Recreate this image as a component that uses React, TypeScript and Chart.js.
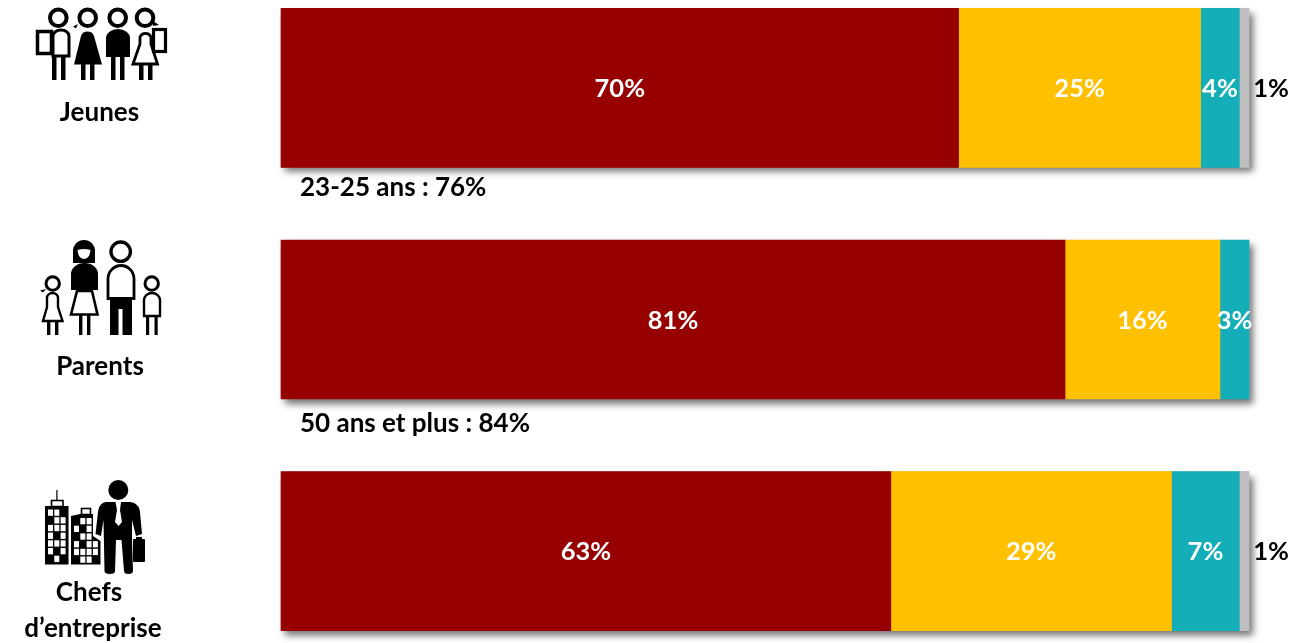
import React, { useEffect, useRef } from "react";
import { Chart, registerables } from "chart.js";

Chart.register(...registerables);

const categories = ["Jeunes", "Parents", "Chefs d’entreprise"];
const favorable = [70, 81, 63];
const neutral = [25, 16, 29];
const opposed = [4, 3, 7];
const unknown = [1, 0, 1];
const notes = ["23-25 ans : 76%", "50 ans et plus : 84%"];
const seriesColors = ["#960000", "#FFC000", "#13AEB8", "#BFBFBF"];
const FONT = "Lato, Carlito, sans-serif";

const shadowPlugin = {
  id: "barShadow",
  beforeDatasetsDraw(chart: any) {
    const { ctx, scales } = chart;
    const bars = chart.getDatasetMeta(0).data;
    ctx.save();
    ctx.shadowColor = "rgba(0,0,0,0.55)";
    ctx.shadowBlur = 7;
    ctx.shadowOffsetX = 4;
    ctx.shadowOffsetY = 5;
    ctx.fillStyle = "#888";
    bars.forEach((b: any) => {
      const h = b.height;
      ctx.fillRect(scales.x.getPixelForValue(0), b.y - h / 2, scales.x.getPixelForValue(100) - scales.x.getPixelForValue(0), h);
    });
    ctx.restore();
  },
};

const labelPlugin = {
  id: "segmentLabels",
  afterDatasetsDraw(chart: any) {
    const { ctx } = chart;
    ctx.save();
    ctx.font = `bold 25.5px ${FONT}`;
    ctx.textAlign = "center";
    ctx.textBaseline = "middle";
    chart.data.datasets.forEach((ds: any, i: number) => {
      chart.getDatasetMeta(i).data.forEach((bar: any, j: number) => {
        const v = ds.data[j];
        if (!v) return;
        const small = v <= 1;
        const x = small ? bar.x + 22 : (bar.x + bar.base) / 2;
        ctx.fillStyle = small ? "#000000" : "#FFFFFF";
        ctx.fillText(`${v}%`, x, bar.y + 1);
      });
    });
    ctx.restore();
  },
};

const textStyle: React.CSSProperties = {
  position: "absolute",
  font: `bold 26px ${FONT}`,
  color: "#000",
  whiteSpace: "nowrap",
  lineHeight: "30px",
};

function centered(text: string, cx: number, cy: number) {
  return (
    <div key={text} style={{ ...textStyle, left: cx - 150, width: 300, top: cy - 15, textAlign: "center" }}>
      {text}
    </div>
  );
}

function Person({ cx, head, r, sw = 3 }: { cx: number; head: number; r: number; sw?: number }) {
  return <circle cx={cx} cy={head} r={r} fill="#fff" stroke="#000" strokeWidth={sw} />;
}

const tallWindows = [
  [0, 0], [1, 0], [1, 1], [2, 1], [0, 2], [1, 2], [2, 2], [0, 3], [2, 3], [0, 4], [1, 4], [2, 4], [0, 5], [2, 5], [1, 6],
];
const lowWindows = [
  [1, 0], [2, 0], [0, 1], [2, 1], [1, 2], [2, 2], [0, 3], [2, 3], [3, 3], [0, 4], [1, 4], [2, 4], [3, 4], [1, 5], [2, 5],
];

function Icons() {
  return (
    <svg width={281} height={643} style={{ position: "absolute", left: 0, top: 0 }}>
      {/* Jeunes */}
      <g>
        <Person cx={58.3} head={17.7} r={8.3} sw={4} />
        <path d="M53 56V36a8 6 0 0 1 16 0V56Z" fill="#fff" stroke="#000" strokeWidth={3} />
        <rect x={37.5} y={31.5} width={14} height={22} fill="#fff" stroke="#000" strokeWidth={3.5} />
        <rect x={52} y={57} width={4.5} height={23} />
        <rect x={61} y={57} width={4.5} height={23} />
        <Person cx={87.7} head={17.7} r={8.3} sw={4} />
        <path d="M74 64.5L81 36a7 7 0 0 1 13 0L102 64.5Z" />
        <path d="M78 24l-5 2.500 3 2z" />
        <rect x={81} y={64} width={4.5} height={16} />
        <rect x={90} y={64} width={4.5} height={16} />
        <Person cx={117.700} head={17.7} r={8.3} sw={4} />
        <path d="M106 57V38a12 9 0 0 1 24 0V57Z" />
        <rect x={111} y={57} width={4.5} height={23} />
        <rect x={120} y={57} width={4.5} height={23} />
        <Person cx={145} head={17.700} r={8.3} sw={4} />
        <path d="M133 64L140 44V37a6 6 0 0 1 11 0V44L157.500 64Z" fill="#fff" stroke="#000" strokeWidth={2.8} />
        <rect x={139} y={64} width={4.5} height={16} />
        <rect x={148} y={64} width={4.5} height={16} />
        <rect x={153.5} y={29.5} width={12} height={22} fill="#fff" stroke="#000" strokeWidth={3.2} />
        <path d="M153 21l6 4-6 1z" />
      </g>
      {/* Parents */}
      <g>
        <Person cx={52.700} head={283.500} r={6.700} sw={3} />
        <path d="M43 321L47 307V298a5.500 5 0 0 1 11 0V307L62.500 321Z" fill="#fff" stroke="#000" strokeWidth={2.4} />
        <path d="M46 289l-6 1.500 3 2z" />
        <rect x={47} y={322} width={3.400} height={13} />
        <rect x={55} y={322} width={3.400} height={13} />
        <path d="M73 263V251a11 11 0 0 1 22 0V263Z" />
        <path d="M77.500 250Q84 248 90.500 250Q90 258.500 84 259Q78 258.500 77.500 250Z" fill="#fff" />
        <path d="M71 290V274a13.500 11 0 0 1 27 0V290Z" />
        <path d="M77 291H92L97.500 314.500H71Z" fill="#fff" stroke="#000" strokeWidth={2.6} />
        <rect x={79} y={315} width={3.400} height={20} />
        <rect x={87} y={315} width={3.400} height={20} />
        <Person cx={120.700} head={251.700} r={9.700} sw={3.400} />
        <path d="M108 298.500V279a12.500 13 0 0 1 26 0V298.500Z" fill="#fff" stroke="#000" strokeWidth={2.8} />
        <path d="M110 299H132V335H122.500V309H118.500V335H110Z" />
        <Person cx={151.700} head={283.500} r={6.700} sw={3} />
        <path d="M144 316V300a8 7 0 0 1 16 0V316Z" fill="#fff" stroke="#000" strokeWidth={2.400} />
        <rect x={146} y={316} width={3.200} height={19} />
        <rect x={154.500} y={316} width={3.200} height={19} />
      </g>
      {/* Chefs d'entreprise */}
      <g>
        <rect x={56.300} y={490} width={1.200} height={11} />
        <rect x={51.500} y={500.500} width={11.500} height={6} fill="#fff" stroke="#000" strokeWidth={1.600} />
        <rect x={45} y={506} width={23.500} height={58.500} />
        {tallWindows.map(([c, r], i) => (
          <rect key={i} x={48 + c * 6.300} y={509.500 + r * 7.700} width={5} height={6.300} fill="#fff" />
        ))}
        <rect x={81.500} y={508.500} width={9} height={6} fill="#fff" stroke="#000" strokeWidth={1.600} />
        <path d="M71 564.500V516L80 514H93V536L100.500 541V564.500Z" />
        {lowWindows.map(([c, r], i) => (
          <rect key={i} x={74 + c * 6.300} y={518 + r * 7.700} width={5} height={6.300} fill="#fff" />
        ))}
        <circle cx={118.300} cy={490} r={10} />
        <path d="M106 502H130Q139 503 140 512L142 534L136 536L132 520V540L133 571Q133 574 128.500 574Q124 574 124 571L121.500 540H116L115 571Q115 574 110 574Q104.500 574 104.500 571L103.500 520L101 536L95.500 534L98 512Q99 503 106 502Z" />
        <path d="M115.500 502H121L120 510L122 522L118.500 526L115 522L117 510Z" fill="#fff" />
        <rect x={133} y={539} width={12} height={23} rx={1} />
        <rect x={136} y={537} width={6} height={2.500} />
      </g>
    </svg>
  );
}

export default function App() {
  const ref = useRef<HTMLCanvasElement>(null);
  useEffect(() => {
    const chart = new Chart(ref.current!, {
      type: "bar",
      data: {
        labels: categories,
        datasets: [favorable, neutral, opposed, unknown].map((data, i) => ({
          data,
          backgroundColor: seriesColors[i],
          barThickness: 159,
          clip: false as any,
          borderWidth: 0,
        })),
      },
      options: {
        indexAxis: "y",
        responsive: false,
        animation: false,
        layout: { padding: { left: 281, right: 46, top: 0, bottom: 0 } },
        plugins: { legend: { display: false }, tooltip: { enabled: false } },
        scales: {
          x: { stacked: true, min: 0, max: 100, display: false },
          y: { stacked: true, display: false },
        },
      },
      plugins: [shadowPlugin, labelPlugin],
    } as any);
    return () => chart.destroy();
  }, []);

  return (
    <div style={{ position: "absolute", left: 0, top: 0, width: 1295, height: 643, overflow: "hidden", background: "#fff" }}>
      <canvas ref={ref} width={1295} height={695} style={{ position: "absolute", left: 0, top: -28, display: "block" }} />
      <Icons />
      {centered(categories[0], 99.500, 111)}
      {centered(categories[1], 100, 365)}
      {centered("Chefs", 89, 591)}
      {centered("d’entreprise", 93, 627)}
      <div style={{ ...textStyle, left: 300, top: 171 }}>{notes[0]}</div>
      <div style={{ ...textStyle, left: 300, top: 407 }}>{notes[1]}</div>
    </div>
  );
}
